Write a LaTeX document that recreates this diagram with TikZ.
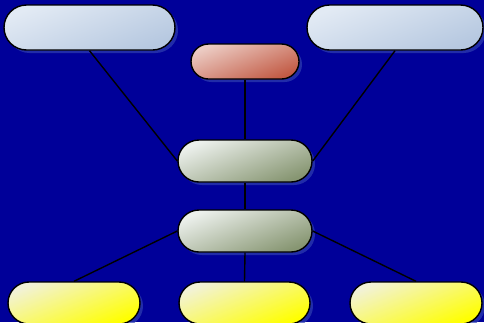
\documentclass[tikz,border=0pt]{standalone}
\usetikzlibrary{shapes.misc,shadows}
\definecolor{bg}{HTML}{000099}
\definecolor{shd}{HTML}{3040B0}
\definecolor{blueA}{HTML}{E2EAF4}
\definecolor{blueB}{HTML}{B6C8E0}
\definecolor{redA}{HTML}{ECCCC4}
\definecolor{redB}{HTML}{C25A44}
\definecolor{grnA}{HTML}{ECF0EC}
\definecolor{grnB}{HTML}{879672}
\definecolor{yelA}{HTML}{F2F2D8}
\definecolor{yelB}{HTML}{FFFF00}
\tikzset{
  pill/.style={rounded rectangle, draw=black, line width=1.4pt, inner sep=0pt,
    drop shadow={fill=shd, opacity=0.7, shadow xshift=3pt, shadow yshift=-3pt},
    shading=axis},
  bluepill/.style={pill, top color=blueA, bottom color=blueB, shading angle=22},
  redpill/.style={pill, top color=redA, bottom color=redB, shading angle=22},
  grnpill/.style={pill, top color=grnA, bottom color=grnB, shading angle=22},
  yelpill/.style={pill, top color=yelA, bottom color=yelB, shading angle=22},
  link/.style={draw=black, line width=1.4pt}
}
\begin{document}
\begin{tikzpicture}[x=1pt,y=-1pt]
\useasboundingbox (0,0) rectangle (484,322);
\fill[bg] (0,0) rectangle (484,322);
\node[bluepill, minimum width=171pt, minimum height=45pt] (tl) at (89.5,27.5) {};
\node[bluepill, minimum width=176pt, minimum height=45pt] (tr) at (395,27.5) {};
\node[redpill, minimum width=108pt, minimum height=35pt] (red) at (245,61.5) {};
\node[grnpill, minimum width=134pt, minimum height=42pt] (g1) at (245,161) {};
\node[grnpill, minimum width=134pt, minimum height=42pt] (g2) at (245,231) {};
\node[yelpill, minimum width=132pt, minimum height=42pt] (y1) at (74,303) {};
\node[yelpill, minimum width=131pt, minimum height=42pt] (y2) at (244.5,303) {};
\node[yelpill, minimum width=132pt, minimum height=42pt] (y3) at (416,303) {};
\draw[link] (tl.south) -- (g1.west);
\draw[link] (tr.south) -- (g1.east);
\draw[link] (red.south) -- (g1.north);
\draw[link] (g1.south) -- (g2.north);
\draw[link] (g2.west) -- (y1.north);
\draw[link] (g2.south) -- (y2.north);
\draw[link] (g2.east) -- (y3.north);
\end{tikzpicture}
\end{document}
